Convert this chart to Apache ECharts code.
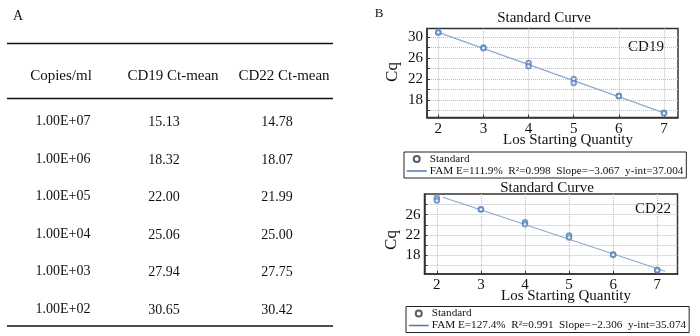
<!DOCTYPE html>
<html>
<head>
<meta charset="utf-8">
<script src="https://cdn.jsdelivr.net/npm/echarts@6/dist/echarts.min.js"></script>
<style>html,body{margin:0;padding:0;background:#fff}#c{width:700px;height:336px}</style>
</head>
<body>
<div id="c"></div>
<script>
// ---- Panel A table ----
const tableHeaders = ['Copies/ml', 'CD19 Ct-mean', 'CD22 Ct-mean'];
const copies = ['1.00E+07', '1.00E+06', '1.00E+05', '1.00E+04', '1.00E+03', '1.00E+02'];
const cd19Mean = ['15.13', '18.32', '22.00', '25.06', '27.94', '30.65'];
const cd22Mean = ['14.78', '18.07', '21.99', '25.00', '27.75', '30.42'];

// ---- Panel B: CD19 standard curve ----
const cd19X = [2, 2, 3, 3, 4, 4, 5, 5, 6, 6, 7, 7];
const cd19Y = [30.85, 30.85, 27.98, 27.85, 25.05, 24.4, 22.0, 21.2, 18.8, 18.72, 15.55, 15.45];
const cd19LineX = [2, 7];
const cd19LineY = [30.87, 15.54];
const cd19Legend = 'FAM E=111.9%  R\u00B2=0.998  Slope=\u22123.067  y-int=37.004';

// ---- Panel B: CD22 standard curve ----
const cd22X = [2, 2, 3, 3, 4, 4, 5, 5, 6, 6, 7, 7];
const cd22Y = [29.3, 28.8, 27.1, 27.05, 24.5, 24.1, 21.9, 21.5, 18.1, 18.05, 15.05, 15.0];
const cd22LineX = [2.14, 7.18];
const cd22LineY = [29.46, 14.8];
const cd22Legend = 'FAM E=127.4%  R\u00B2=0.991  Slope=\u22122.306  y-int=35.074';

// ---- tick labels ----
const xTicks = [2, 3, 4, 5, 6, 7];
const yTicksTop = [16, 18, 20, 22, 24, 26, 28, 30];
const yLabelsTop = [18, 22, 26, 30];
const yTicksBot = [16, 18, 20, 22, 24, 26, 28];
const yLabelsBot = [18, 22, 26];

const FONT = '"Liberation Serif", "Times New Roman", serif';
const zip = (a, b) => a.map((v, i) => [v, b[i]]);

function txt(t, x, y, size, extra) {
  return Object.assign({
    type: 'text', x: x, y: y,
    style: { text: t, font: size + 'px ' + FONT, fill: '#111', align: 'center', verticalAlign: 'middle' }
  }, extra || {});
}

const graphics = [];
// Panel A
graphics.push(txt('A', 18, 16, 14));
const ruleYs = [43.5, 98.5, 326];
ruleYs.forEach(y => graphics.push({ type: 'line', shape: { x1: 7, y1: y, x2: 333, y2: y }, style: { stroke: '#111', lineWidth: 1.3 } }));
const headX = [61, 173, 284];
tableHeaders.forEach((h, i) => graphics.push(txt(h, headX[i], 76, 15)));
const colX = [63, 164, 277];
copies.forEach((c, r) => {
  const y = 121.5 + r * 37.5;
  graphics.push(txt(c, colX[0], y, 14));
  graphics.push(txt(cd19Mean[r], colX[1], y + 1, 14));
  graphics.push(txt(cd22Mean[r], colX[2], y + 1, 14));
});
// Panel B texts
graphics.push(txt('B', 379, 14, 13));
graphics.push(txt('Standard Curve', 544, 18, 15));
graphics.push(txt('Standard Curve', 547, 188.5, 15));
graphics.push(txt('CD19', 646, 47, 15));
graphics.push(txt('CD22', 653, 209, 15));
graphics.push(txt('Los Starting Quantity', 568, 140, 15));
graphics.push(txt('Los Starting Quantity', 566, 296.5, 15));
graphics.push(txt('Cq', 393, 72, 17, { rotation: Math.PI / 2 }));
graphics.push(txt('Cq', 392, 240, 17, { rotation: Math.PI / 2 }));

function xAxisCfg(grid, min, max) {
  return {
    type: 'value', gridIndex: grid, min: min, max: max,
    axisLine: { show: true, lineStyle: { color: '#333', width: 1.5 } },
    axisTick: { show: true, inside: true, length: 3, customValues: xTicks, lineStyle: { color: '#333' } },
    axisLabel: { customValues: xTicks, fontFamily: FONT, fontSize: 15, color: '#111', margin: 4 },
    splitLine: { show: true, lineStyle: { type: 'dotted', color: '#bdbdbd', width: 1 } }
  };
}
function yAxisCfg(grid, min, max, ticks, labels) {
  return {
    type: 'value', gridIndex: grid, min: min, max: max,
    axisLine: { show: true, lineStyle: { color: '#333', width: 1.5 } },
    axisTick: { show: true, inside: true, length: 3, customValues: ticks, lineStyle: { color: '#333' } },
    axisLabel: { customValues: labels, fontFamily: FONT, fontSize: 15, color: '#111', margin: 4 },
    splitLine: { show: true, lineStyle: { type: 'dotted', color: '#bdbdbd', width: 1 } }
  };
}

const ptColor = '#5b84be';
const lineColor = '#8fa9cd';
const legendLineColor = '#4a78b5';

function legendCfg(left, top, famName) {
  return {
    orient: 'vertical', left: left, top: top,
    itemGap: 0, itemWidth: 20, itemHeight: 6,
    padding: [1, 3, 1, 2],
    borderColor: '#222', borderWidth: 1,
    selectedMode: false,
    textStyle: { fontFamily: FONT, fontSize: 11.2, color: '#111', lineHeight: 12, padding: [0, 0, 0, -2] },
    data: [
      { name: 'Standard', icon: 'emptyCircle', itemStyle: { color: '#333', borderColor: '#333', borderWidth: 1 } },
      { name: famName, lineStyle: { color: legendLineColor, width: 1.5 },
        itemStyle: { color: 'transparent', borderColor: 'transparent', borderWidth: 0, opacity: 0 } }
    ]
  };
}

const option = {
  animation: false,
  backgroundColor: '#fff',
  grid: [
    { left: 427, top: 28.5, width: 251, height: 89, show: true, borderColor: '#333', borderWidth: 1.5, backgroundColor: 'transparent' },
    { left: 424.5, top: 194, width: 253, height: 80, show: true, borderColor: '#333', borderWidth: 1.5, backgroundColor: 'transparent' }
  ],
  xAxis: [xAxisCfg(0, 1.75, 7.31), xAxisCfg(1, 1.72, 7.46)],
  yAxis: [yAxisCfg(0, 14.65, 31.6, yTicksTop, yLabelsTop), yAxisCfg(1, 14.26, 30.1, yTicksBot, yLabelsBot)],
  legend: [legendCfg(404, 152, cd19Legend), legendCfg(406, 306.5, cd22Legend)],
  series: [
    { name: 'Standard', type: 'scatter', xAxisIndex: 0, yAxisIndex: 0, symbol: 'emptyCircle', symbolSize: 4.5,
      itemStyle: { color: ptColor, borderWidth: 1 }, data: zip(cd19X, cd19Y), z: 3 },
    { name: cd19Legend, type: 'line', xAxisIndex: 0, yAxisIndex: 0, symbol: 'none',
      lineStyle: { color: lineColor, width: 1.2 }, itemStyle: { color: legendLineColor }, data: zip(cd19LineX, cd19LineY), z: 2 },
    { name: 'Standard', type: 'scatter', xAxisIndex: 1, yAxisIndex: 1, symbol: 'emptyCircle', symbolSize: 4.5,
      itemStyle: { color: ptColor, borderWidth: 1 }, data: zip(cd22X, cd22Y), z: 3 },
    { name: cd22Legend, type: 'line', xAxisIndex: 1, yAxisIndex: 1, symbol: 'none',
      lineStyle: { color: lineColor, width: 1.2 }, itemStyle: { color: legendLineColor }, data: zip(cd22LineX, cd22LineY), z: 2 }
  ],
  graphic: graphics
};

const chart = echarts.init(document.getElementById('c'), null, { renderer: 'canvas' });
chart.setOption(option);
</script>
</body>
</html>
